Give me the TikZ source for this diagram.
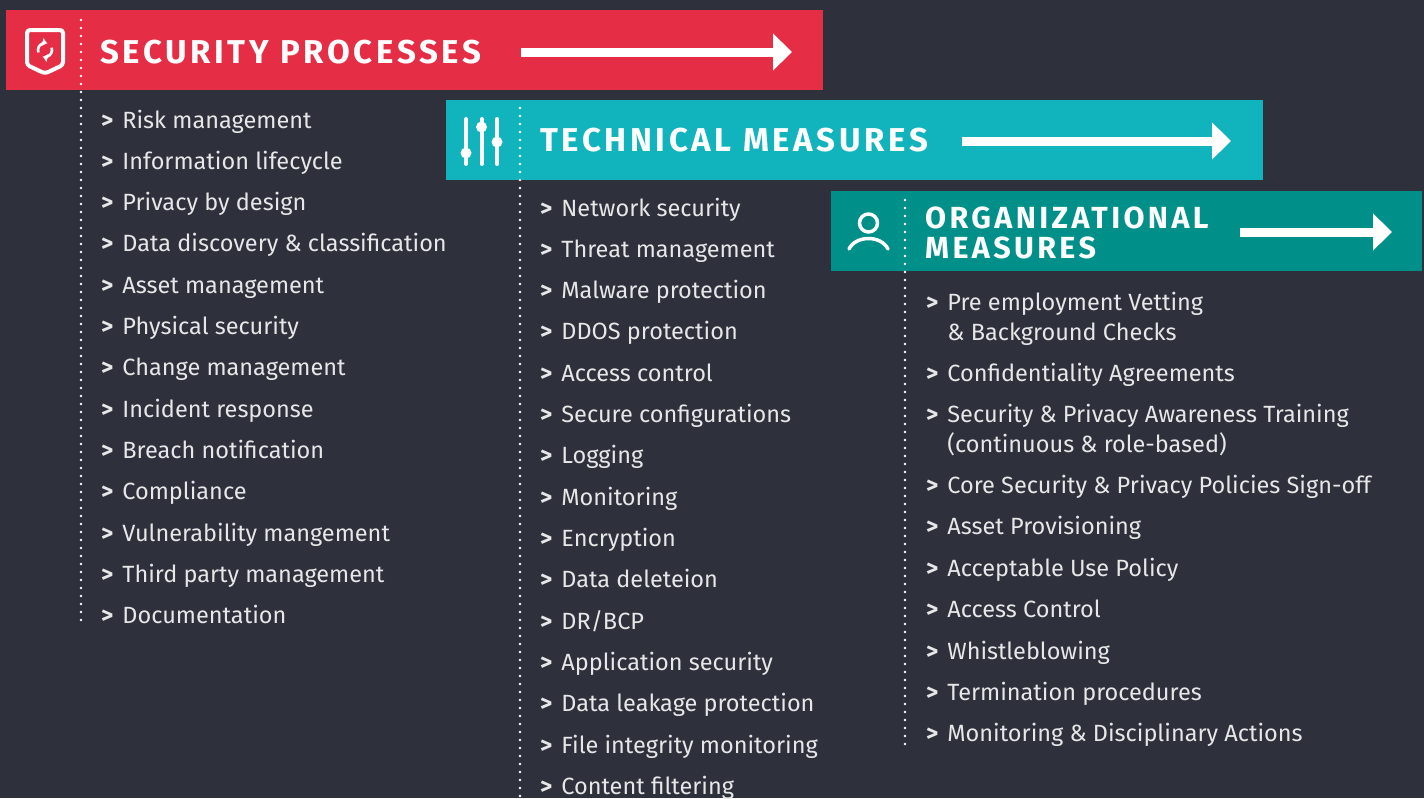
\documentclass[tikz,border=0pt]{standalone}
\usepackage{fontspec}
\setmainfont{Fira Sans}
\newfontfamily\titlefont[LetterSpace=11]{Fira Sans}
\usetikzlibrary{arrows.meta}
\definecolor{bg}{HTML}{2E313B}
\definecolor{sred}{HTML}{E52D45}
\definecolor{tteal}{HTML}{11B3BC}
\definecolor{oteal}{HTML}{008F89}
\definecolor{txt}{HTML}{E6E7E8}
\newcommand{\bul}{\textbf{>}\hspace{9pt}}
\tikzset{
  bar/.style={anchor=north west, inner sep=0pt, minimum height=80pt},
  title/.style={anchor=base west, inner sep=0pt, text=white, font=\titlefont\bfseries\fontsize{33}{36}\selectfont},
  smalltitle/.style={title, font=\titlefont\bfseries\fontsize{30.5}{34}\selectfont},
  item/.style={anchor=base west, inner sep=0pt, text=txt, font=\fontsize{23.5}{28}\selectfont},
  bigarrow/.style={draw=white, line width=9pt, -{Triangle[length=19pt,width=36pt]}},
  dots/.style={draw=white, line width=2.6pt, line cap=round, dash pattern=on 0pt off 8pt},
  icon/.style={draw=white, line width=4pt, line cap=round, line join=round},
  refresh/.style={draw=white, line width=2.6pt, -{Triangle[length=4.5pt,width=8pt]}},
}
\begin{document}
\begin{tikzpicture}[x=1pt,y=-1pt]
\fill[bg] (0,0) rectangle (1424,798);
\useasboundingbox (0,0) rectangle (1424,798);
% bars
\node[bar, fill=sred, minimum width=817pt] (spbar) at (6,10) {};
\node[bar, fill=tteal, minimum width=817pt] (tmbar) at (446,100) {};
\node[bar, fill=oteal, minimum width=591pt] (ombar) at (831,191) {};
% dotted lines
\coordinate (spd1) at (81,20); \coordinate (spd2) at (81,625);
\coordinate (tmd1) at (520,108); \coordinate (tmd2) at (520,798);
\coordinate (omd1) at (905,200); \coordinate (omd2) at (905,745);
\draw[dots] (spd1) -- (spd2);
\draw[dots] (tmd1) -- (tmd2);
\draw[dots] (omd1) -- (omd2);
% titles
\node[title] (sptitle) at (100,63) {SECURITY PROCESSES};
\node[title] (tmtitle) at (540,151) {TECHNICAL MEASURES};
\node[smalltitle] (omtitle1) at (925,228) {ORGANIZATIONAL};
\node[smalltitle] (omtitle2) at (925,258) {MEASURES};
% arrows
\coordinate (spa1) at (521,52); \coordinate (spa2) at (792,52);
\coordinate (tma1) at (962,141); \coordinate (tma2) at (1231,141);
\coordinate (oma1) at (1240,232); \coordinate (oma2) at (1392,232);
\draw[bigarrow] (spa1) -- (spa2);
\draw[bigarrow] (tma1) -- (tma2);
\draw[bigarrow] (oma1) -- (oma2);
% icon: shield
\draw[icon, rounded corners=3pt] (27,30) -- (63,30) -- (63,65) -- (45,73.5) -- (27,65) -- cycle;
\coordinate (refc) at (45,50);
\draw[refresh] (refc) ++(200:7pt) arc[start angle=200, end angle=75, radius=7pt];
\draw[refresh] (refc) ++(20:7pt) arc[start angle=20, end angle=-105, radius=7pt];
% icon: sliders
\draw[icon] (466,119) -- (466,164);
\draw[icon] (481.5,119) -- (481.5,164);
\draw[icon] (497,119) -- (497,164);
\fill[white] (466,153) circle[radius=5.5pt];
\fill[white] (481.5,127) circle[radius=5.5pt];
\fill[white] (497,142) circle[radius=5.5pt];
% icon: person
\draw[icon, line width=3.5pt] (868.5,223) circle[radius=9pt];
\draw[icon, line width=3.5pt] (849,249) .. controls (856,235) and (881,235) .. (888,249);
% security processes items
\foreach \t [count=\i] in {Risk management, Information lifecycle, Privacy by design,
  Data discovery \& classification, Asset management, Physical security,
  Change management, Incident response, Breach notification, Compliance,
  Vulnerability mangement, Third party management, Documentation}
  \node[item] (sp\i) at (101,{128+41.33*(\i-1)}) {\bul\t};
% technical measures items
\foreach \t [count=\i] in {Network security, Threat management, Malware protection,
  DDOS protection, Access control, Secure configurations, Logging, Monitoring,
  Encryption, Data deleteion, DR/BCP, Application security,
  Data leakage protection, File integrity monitoring, Content filtering}
  \node[item] (tm\i) at (540,{216+41.33*(\i-1)}) {\bul\t};
% organizational measures items
\node[item] (om1) at (926,310) {\bul Pre employment Vetting};
\node[item] (om1b) at (926,340) {\phantom{\bul}\& Background Checks};
\node[item] (om2) at (926,381) {\bul Confidentiality Agreements};
\node[item] (om3) at (926,422) {\bul Security \& Privacy Awareness Training};
\node[item] (om3b) at (926,452) {\phantom{\bul}(continuous \& role-based)};
\node[item] (om4) at (926,493) {\bul Core Security \& Privacy Policies Sign-off};
\node[item] (om5) at (926,534) {\bul Asset Provisioning};
\node[item] (om6) at (926,576) {\bul Acceptable Use Policy};
\node[item] (om7) at (926,617) {\bul Access Control};
\node[item] (om8) at (926,659) {\bul Whistleblowing};
\node[item] (om9) at (926,700) {\bul Termination procedures};
\node[item] (om10) at (926,741) {\bul Monitoring \& Disciplinary Actions};
\end{tikzpicture}
\end{document}
